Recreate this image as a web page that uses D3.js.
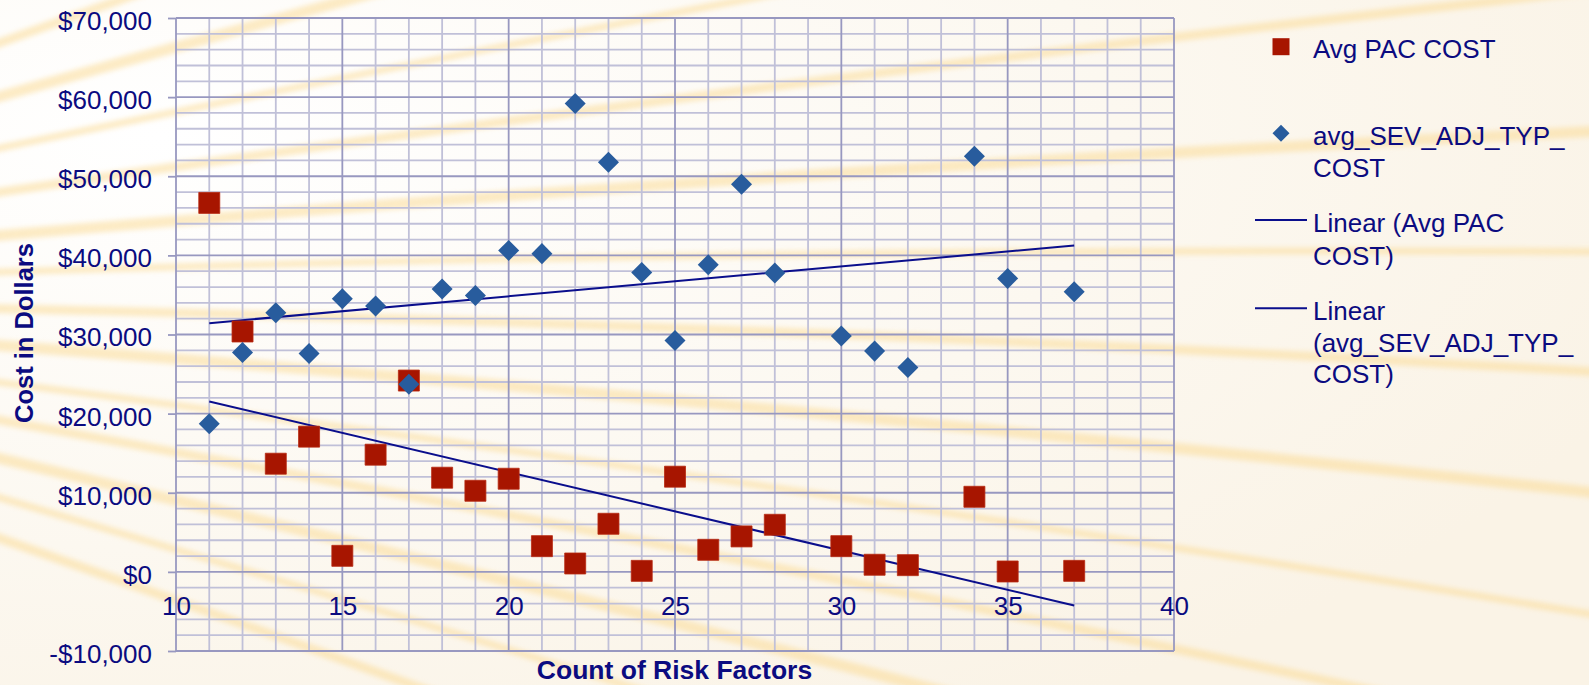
<!DOCTYPE html>
<html>
<head>
<meta charset="utf-8">
<script src="https://cdn.jsdelivr.net/npm/d3@7"></script>
<style>
  html, body { margin: 0; padding: 0; background: #fcf8f0; }
  svg { display: block; }
  text { font-family: "Liberation Sans", Arial, sans-serif; }
</style>
</head>
<body>
<svg id="chart" width="1589" height="685"></svg>
<script>
// ---------- data ----------
const riskFactors = [11,12,13,14,15,16,17,18,19,20,21,22,23,24,25,26,27,28,30,31,32,34,35,37];
const avgPacCost = [46630,30380,13670,17090,2030,14810,24180,11900,10250,11770,3250,1060,6080,130,12030,2790,4480,5950,3250,900,850,9490,50,130];
const avgSevAdjTypCost = [18730,27720,32750,27600,34520,33590,23720,35750,34940,40630,40220,59200,51770,37850,29240,38820,48990,37770,29800,27900,25820,52530,37090,35410];
const xTicks = [10,15,20,25,30,35,40];
const yTicks = [-10000,0,10000,20000,30000,40000,50000,60000,70000];
const legendLabels = [
  ["Avg PAC COST"],
  ["avg_SEV_ADJ_TYP_", "COST"],
  ["Linear (Avg PAC", "COST)"],
  ["Linear", "(avg_SEV_ADJ_TYP_", "COST)"]
];

// ---------- setup ----------
const W = 1589, H = 685;
const svg = d3.select("#chart");
const TEXT = "#0b0b80";
const RED = "#a71500";
const BLUE = "#285c9d";
const LINE = "#0a0e8c";
const FONT = '"Liberation Sans", Arial, sans-serif';

// background
const defs = svg.append("defs");
const bg = defs.append("radialGradient").attr("id","bgGrad").attr("cx","0.1").attr("cy","0.2").attr("r","1");
bg.append("stop").attr("offset","0").attr("stop-color","#ffffff");
bg.append("stop").attr("offset","0.6").attr("stop-color","#fcf8f0");
bg.append("stop").attr("offset","1").attr("stop-color","#faf3e6");
svg.append("rect").attr("width",W).attr("height",H).attr("fill","url(#bgGrad)");
defs.append("filter").attr("id","blur").append("feGaussianBlur").attr("stdDeviation",2.5);

// decorative streaks (background art)
const streakAngles = [-24,-19,-15,-11,-7.5,-4,-1,2,5,8,11,14,17,20];
const streaks = svg.append("g").attr("filter","url(#blur)").attr("opacity",0.55);
streakAngles.forEach((a,i) => {
  const ox = -700, oy = 300;
  const r = 2600;
  const rad = a*Math.PI/180;
  const ex = ox + r*Math.cos(rad), ey = oy + r*Math.sin(rad);
  const mx = ox + r*0.5*Math.cos(rad), my = oy + r*0.5*Math.sin(rad) - 40;
  streaks.append("path")
    .attr("d", `M${ox},${oy} Q${mx},${my} ${ex},${ey}`)
    .attr("fill","none").attr("stroke","#fbdc98").attr("stroke-width", 7 + (i%3)*2);
});

// ---------- scales ----------
const x = d3.scaleLinear().domain([10,40]).range([176,1174]);
const y = d3.scaleLinear().domain([-10000,70000]).range([651,18]);

// ---------- grid ----------
const grid = svg.append("g");
const minorX = d3.range(10,41,1).filter(v => v % 5 !== 0);
const minorY = d3.range(-10000,70001,2000).filter(v => v % 10000 !== 0);
grid.selectAll(".mx").data(minorX).join("line")
  .attr("x1", d=>x(d)).attr("x2", d=>x(d)).attr("y1", y(70000)).attr("y2", y(-10000))
  .attr("stroke","#c0c0d8").attr("stroke-width",1.8);
grid.selectAll(".my").data(minorY).join("line")
  .attr("y1", d=>y(d)).attr("y2", d=>y(d)).attr("x1", x(10)).attr("x2", x(40))
  .attr("stroke","#c0c0d8").attr("stroke-width",1.8);
grid.selectAll(".Mx").data(xTicks).join("line")
  .attr("x1", d=>x(d)).attr("x2", d=>x(d)).attr("y1", y(70000)).attr("y2", y(-10000))
  .attr("stroke","#9898c0").attr("stroke-width",1.8);
grid.selectAll(".My").data(yTicks).join("line")
  .attr("y1", d=>y(d)).attr("y2", d=>y(d)).attr("x1", x(10)).attr("x2", x(40))
  .attr("stroke","#9898c0").attr("stroke-width",1.8);

// ---------- axes ----------
const money = d => (d < 0 ? "-$" : "$") + d3.format(",")(Math.abs(d));
const yAxis = svg.append("g").attr("transform",`translate(${x(10)},0)`)
  .call(d3.axisLeft(y).tickValues(yTicks).tickFormat(money).tickSize(8).tickPadding(16));
yAxis.select(".domain").remove();
yAxis.selectAll(".tick line").attr("stroke","#9898c0").attr("stroke-width",1.8);
yAxis.selectAll(".tick text").attr("fill",TEXT).attr("font-size",26).attr("dy","0.44em")
  .attr("font-family",FONT);

const xAxis = svg.append("g").attr("transform",`translate(0,${y(0)})`)
  .call(d3.axisBottom(x).tickValues(xTicks).tickSize(0).tickPadding(25));
xAxis.select(".domain").remove();
xAxis.selectAll(".tick text").attr("fill",TEXT).attr("font-size",26)
  .attr("font-family",FONT);

// axis titles
svg.append("text").attr("x",674.5).attr("y",679).attr("text-anchor","middle")
  .attr("font-size",26.5).attr("font-weight","bold").attr("fill",TEXT).text("Count of Risk Factors");
svg.append("text").attr("transform","translate(33,333) rotate(-90)").attr("text-anchor","middle")
  .attr("font-size",25.5).attr("font-weight","bold").attr("fill",TEXT).text("Cost in Dollars");

// ---------- trend lines (least squares) ----------
function linReg(xs, ys) {
  const mx = d3.mean(xs), my = d3.mean(ys);
  const sxy = d3.sum(xs, (v,i) => (v-mx)*(ys[i]-my));
  const sxx = d3.sum(xs, v => (v-mx)*(v-mx));
  const b = sxy/sxx, a = my - b*mx;
  return v => a + b*v;
}
const ext = d3.extent(riskFactors);
const line = d3.line().x(d=>x(d[0])).y(d=>y(d[1]));
[avgSevAdjTypCost, avgPacCost].forEach(vals => {
  const f = linReg(riskFactors, vals);
  svg.append("path").datum(ext.map(v => [v, f(v)]))
    .attr("d", line).attr("fill","none").attr("stroke",LINE).attr("stroke-width",2);
});

// ---------- markers ----------
const sq = d3.symbol().type(d3.symbolSquare).size(441);
const dia = d3.symbol().type(d3.symbolSquare).size(221);
svg.append("g").selectAll("path").data(riskFactors.map((v,i)=>[v,avgPacCost[i]])).join("path")
  .attr("d", sq).attr("transform", d=>`translate(${x(d[0])},${y(d[1])})`)
  .attr("fill",RED).attr("stroke","#b82a10").attr("stroke-width",0.8);
svg.append("g").selectAll("path").data(riskFactors.map((v,i)=>[v,avgSevAdjTypCost[i]])).join("path")
  .attr("d", dia).attr("transform", d=>`translate(${x(d[0])},${y(d[1])}) rotate(45)`)
  .attr("fill",BLUE);

// ---------- legend ----------
const lg = svg.append("g");
const lx = 1313;
const rows = [
  {sym:"square", cy:46.7, base:[58.3]},
  {sym:"diamond", cy:133.3, base:[145, 176.7]},
  {sym:"line", cy:220, base:[232.3, 265]},
  {sym:"line", cy:308.3, base:[320, 351.7, 383.3]}
];
rows.forEach((r,i) => {
  if (r.sym === "square") {
    lg.append("path").attr("d", d3.symbol().type(d3.symbolSquare).size(289)())
      .attr("transform",`translate(1281,${r.cy})`).attr("fill",RED);
  } else if (r.sym === "diamond") {
    lg.append("path").attr("d", d3.symbol().type(d3.symbolSquare).size(145)())
      .attr("transform",`translate(1281,${r.cy}) rotate(45)`).attr("fill",BLUE);
  } else {
    lg.append("line").attr("x1",1255).attr("x2",1307).attr("y1",r.cy).attr("y2",r.cy)
      .attr("stroke",LINE).attr("stroke-width",2);
  }
  legendLabels[i].forEach((t,j) => {
    lg.append("text").attr("x",lx).attr("y",r.base[j]).attr("font-size",26)
      .attr("fill",TEXT).text(t);
  });
});
</script>
</body>
</html>
